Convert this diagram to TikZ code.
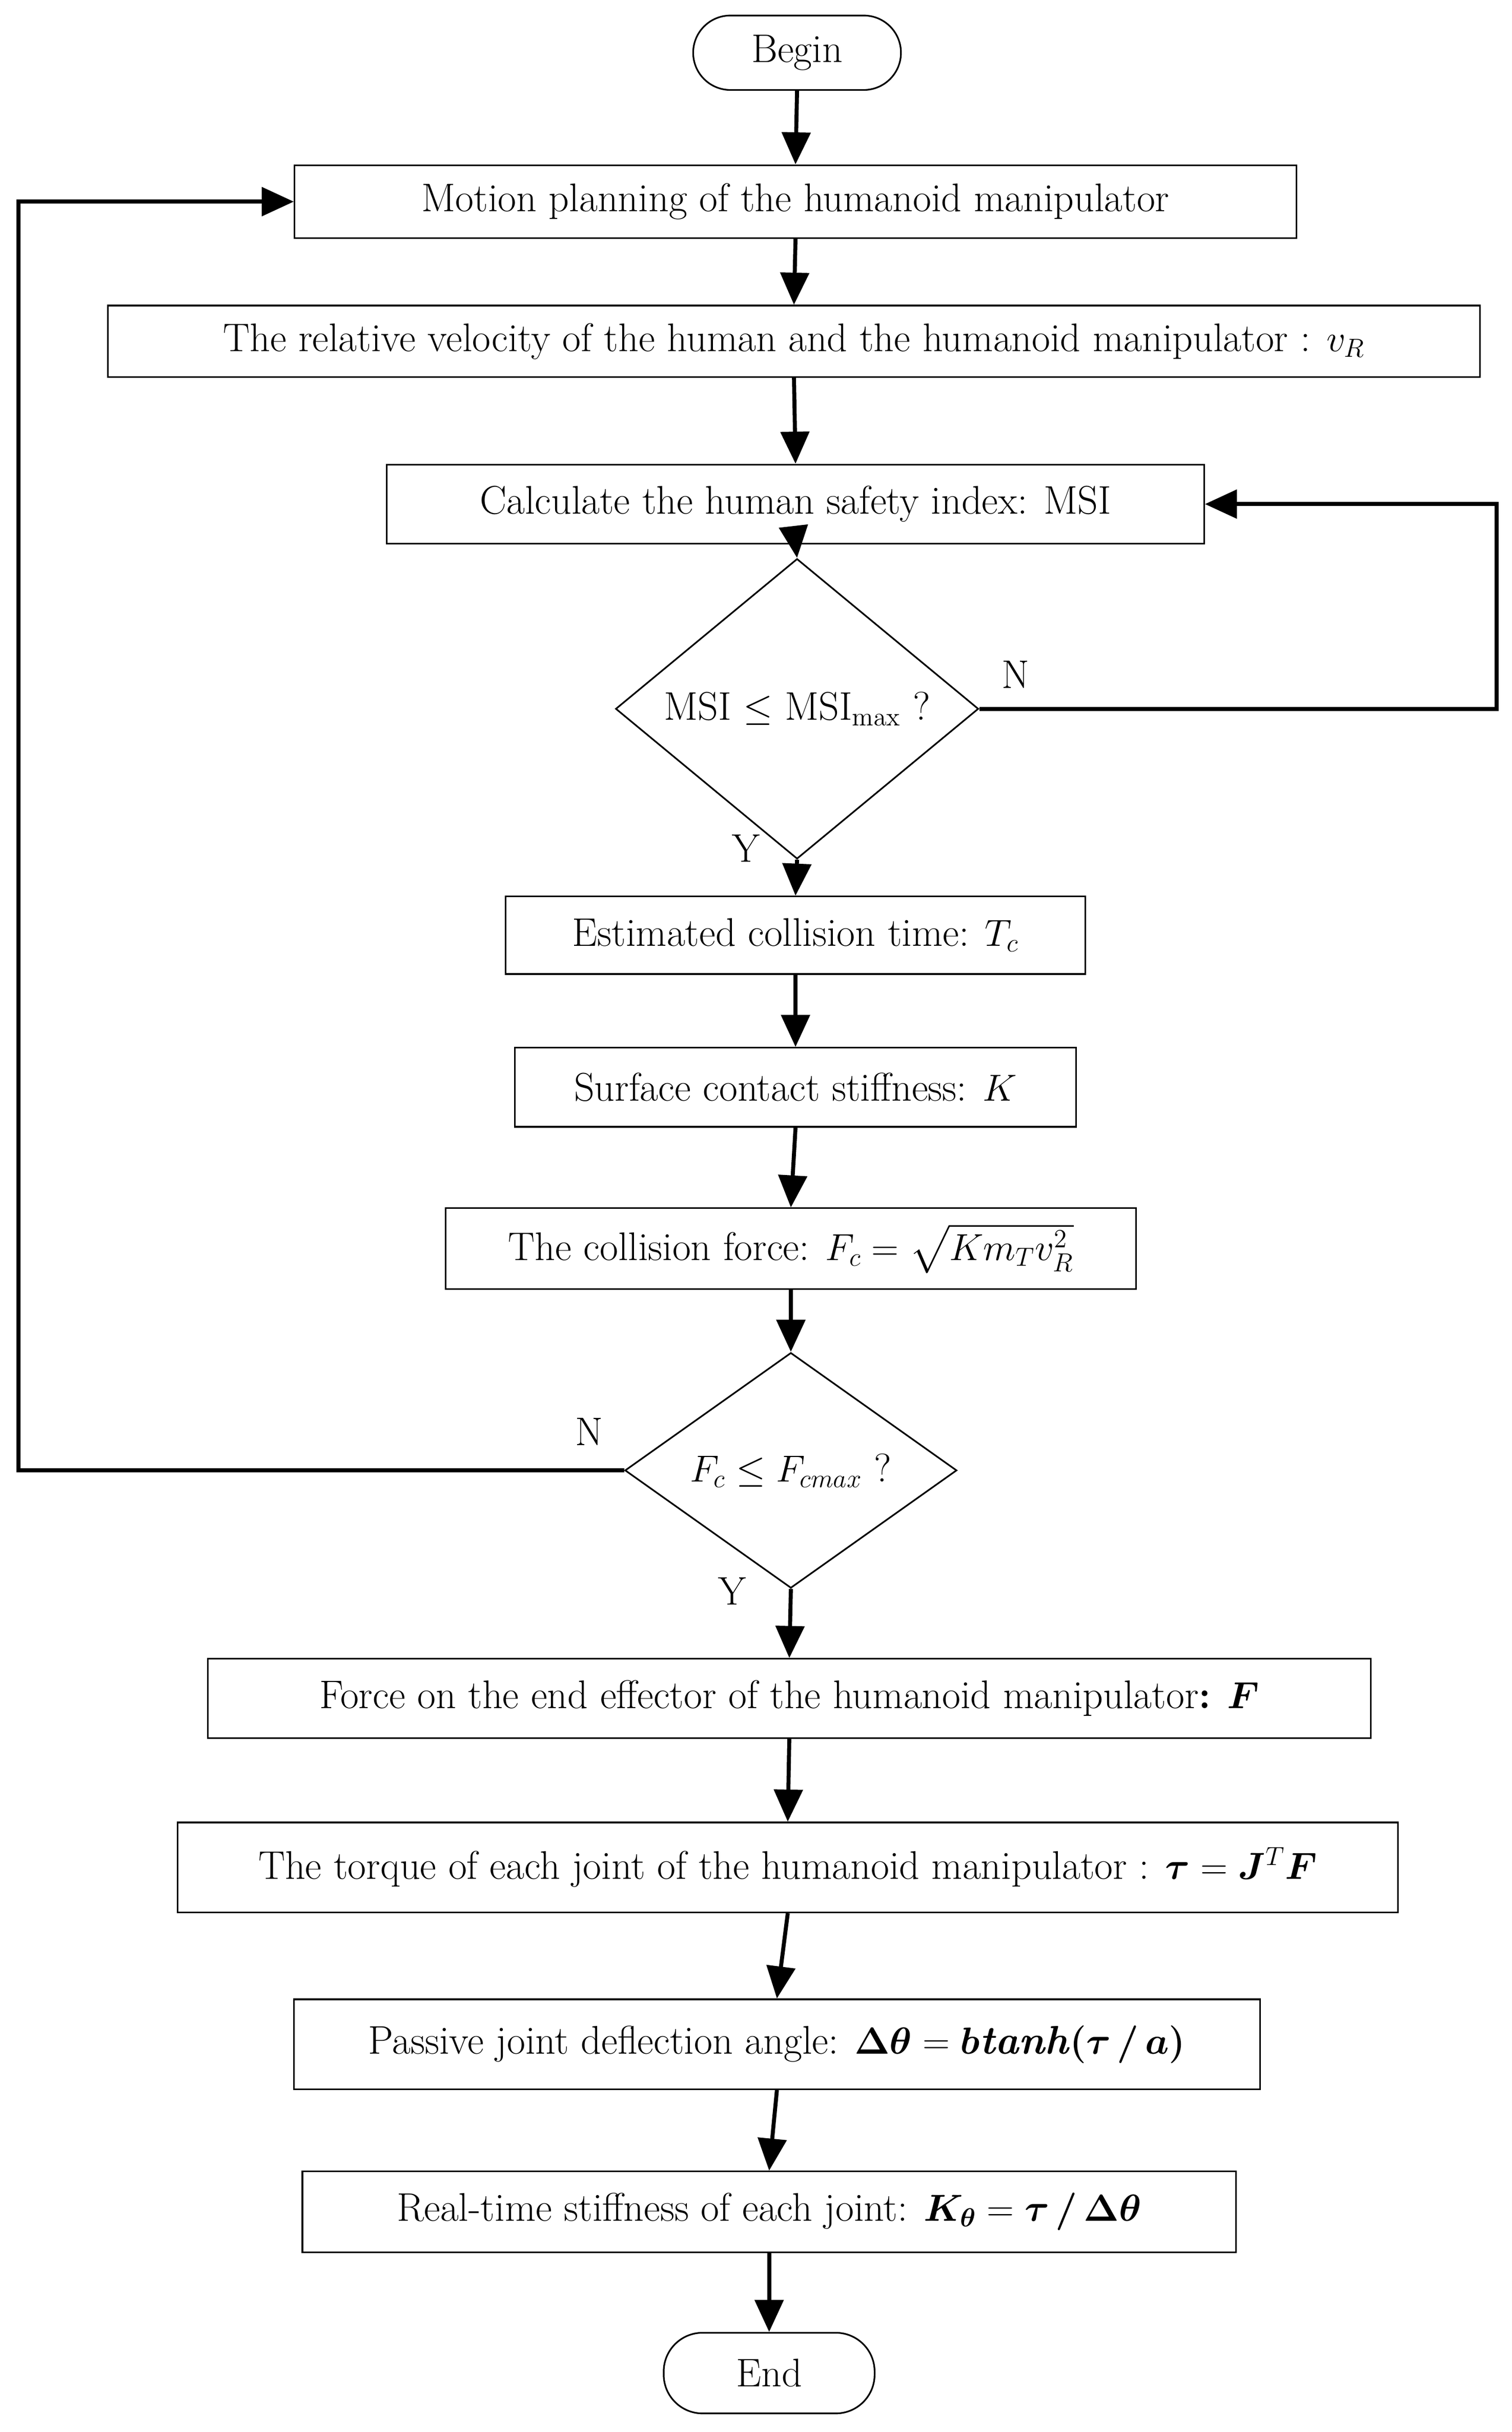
\documentclass[tikz,border=0pt]{standalone}
\usepackage{amsmath,amssymb,bm}
\usetikzlibrary{shapes.geometric,arrows.meta}
\begin{document}
\begin{tikzpicture}[x=0.03cm,y=-0.03cm,
  every node/.style={font=\fontsize{22}{26}\selectfont},
  box/.style={draw,line width=0.9pt,inner sep=0pt},
  dia/.style={draw,diamond,line width=0.9pt,inner sep=0pt},
  arr/.style={line width=2.2pt,-{Triangle[length=0.62cm,width=0.55cm]}},
  lbl/.style={font=\fontsize{22}{26}\selectfont}]
\useasboundingbox (0,0) rectangle (975,1568);
\node[box,rounded corners=0.72cm,minimum width=134*0.03cm,minimum height=48*0.03cm] (begin) at (514,34) {Begin};
\node[box,minimum width=646*0.03cm,minimum height=47*0.03cm] (motion) at (513,130) {Motion planning of the humanoid manipulator};
\node[box,minimum width=885*0.03cm,minimum height=46*0.03cm] (rel) at (512,220) {The relative velocity of the human and the humanoid manipulator : $v_R$};
\node[box,minimum width=527*0.03cm,minimum height=51*0.03cm] (calc) at (513,325) {Calculate the human safety index: MSI};
\node[dia,minimum width=234*0.03cm,minimum height=138*0.03cm] (d1) at (514,457) {MSI $\le$ MSI$_{\mathrm{max}}$ ?};
\node[box,minimum width=374*0.03cm,minimum height=50*0.03cm] (est) at (513,603) {Estimated collision time: $T_c$};
\node[box,minimum width=362*0.03cm,minimum height=51*0.03cm] (surf) at (513,701) {Surface contact stiffness: $K$};
\node[box,minimum width=445*0.03cm,minimum height=52*0.03cm] (coll) at (510,805) {The collision force: $F_c=\sqrt{Km_Tv_R^2}$};
\node[dia,minimum width=214*0.03cm,minimum height=128*0.03cm] (d2) at (510,948) {$F_c\le F_{cmax}$ ?};
\node[box,minimum width=750*0.03cm,minimum height=51*0.03cm] (force) at (509,1095) {Force on the end effector of the humanoid manipulator\textbf{:} $\bm{F}$};
\node[box,minimum width=787*0.03cm,minimum height=58*0.03cm] (torq) at (508,1204) {The torque of each joint of the humanoid manipulator : $\bm{\tau}=\bm{J}^T\bm{F}$};
\node[box,minimum width=623*0.03cm,minimum height=58*0.03cm] (pass) at (501,1318) {Passive joint deflection angle: $\bm{\Delta\theta}=\bm{b}\textbf{\textit{tanh}}\bm{(\tau\,/\,a)}$};
\node[box,minimum width=602*0.03cm,minimum height=52*0.03cm] (real) at (496,1426) {Real-time stiffness of each joint: $\bm{K_\theta}=\bm{\tau\,/\,\Delta\theta}$};
\node[box,rounded corners=0.75cm,minimum width=136*0.03cm,minimum height=52*0.03cm] (end) at (496,1530) {End};
\foreach \a/\b in {begin/motion,motion/rel,rel/calc,calc/d1,d1/est,est/surf,surf/coll,coll/d2,d2/force,force/torq,torq/pass,pass/real,real/end}
  \draw[arr] (\a.south) -- (\b.north);
\coordinate (r1) at (965,457);
\coordinate (r2) at (965,325);
\draw[arr] (d1.east) -- (r1) -- (r2) -- (calc.east);
\coordinate (l1) at (12,948);
\coordinate (l2) at (12,130);
\draw[arr] (d2.west) -- (l1) -- (l2) -- (motion.west);
\node[lbl] (n1) at (655,435) {N};
\node[lbl] (y1) at (481,547) {Y};
\node[lbl] (n2) at (380,923) {N};
\node[lbl] (y2) at (472,1026) {Y};
\end{tikzpicture}
\end{document}
